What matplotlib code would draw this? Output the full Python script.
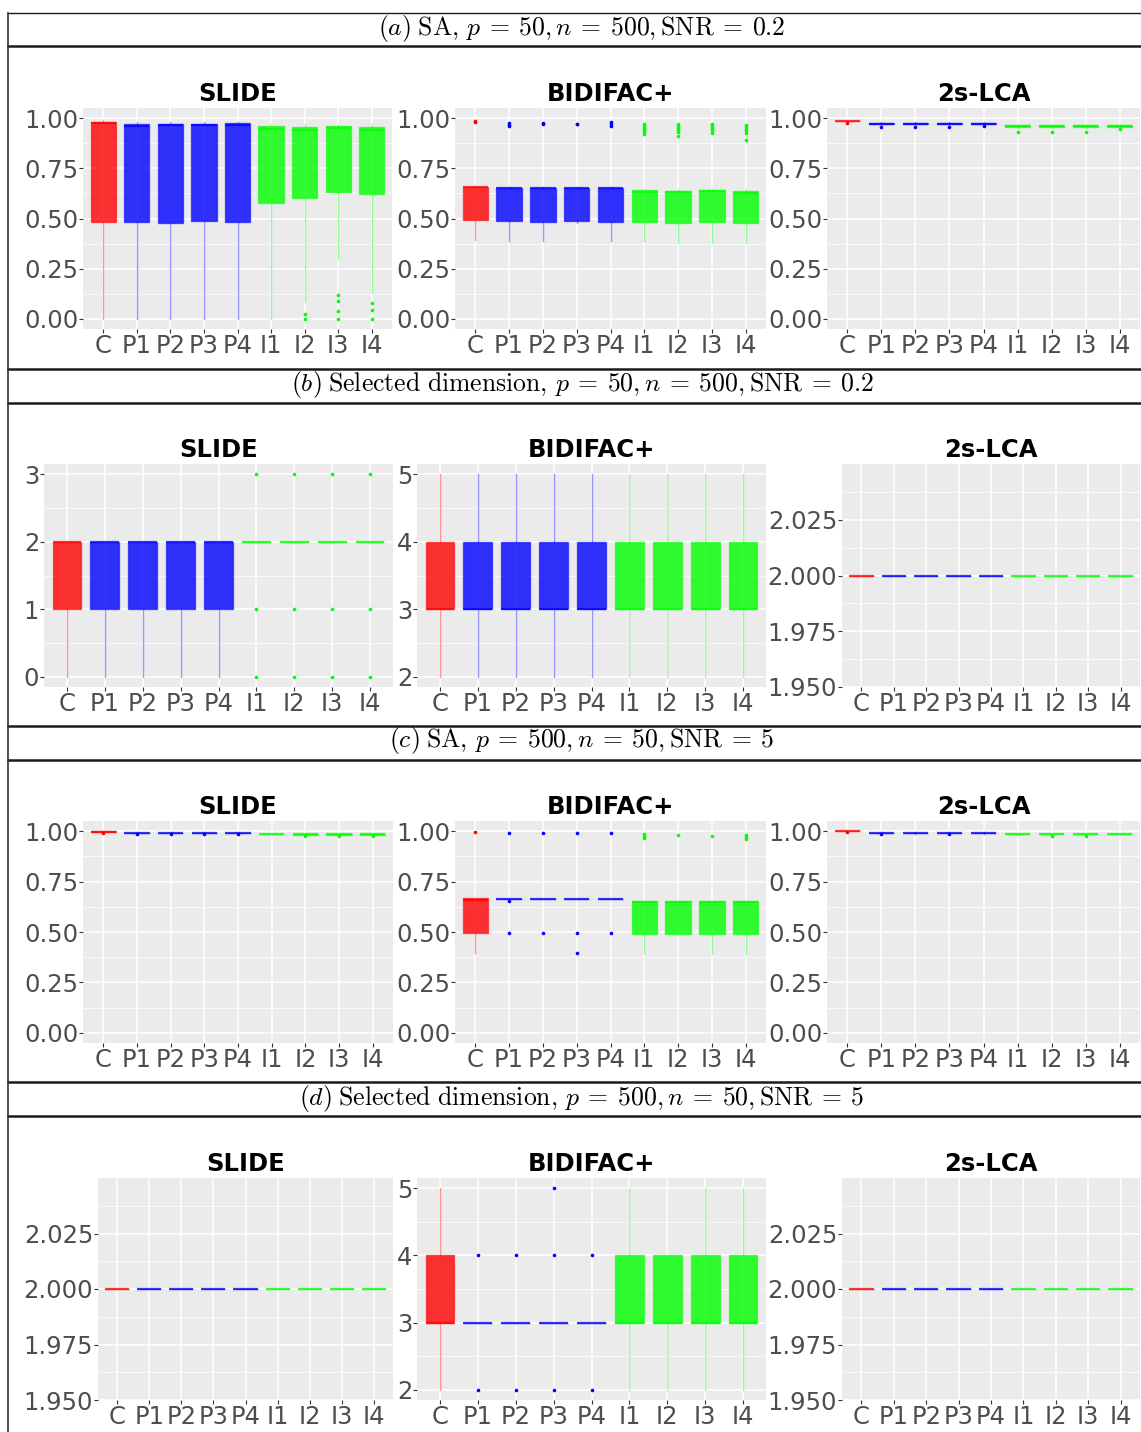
import numpy as np
import matplotlib
matplotlib.use("Agg")
from matplotlib import pyplot as plt
from matplotlib.colors import to_rgba

plt.rcParams['mathtext.fontset'] = 'cm'
plt.rcParams['font.family'] = 'DejaVu Sans'

W, H = 1141, 1432

categorias = ["C", "P1", "P2", "P3", "P4", "I1", "I2", "I3", "I4"]
cores = ["#FF0000"] + ["#0000FF"] * 4 + ["#00FF00"] * 4

titulos = ["SLIDE", "BIDIFAC+", "2s-LCA"]
cabecalhos = [
    r"$(a)\;\mathrm{SA,}\,p\:=\:50,n\:=\:500,\mathrm{SNR}\:=\:0.2$",
    r"$(b)\;\mathrm{Selected\ dimension,}\,p\:=\:50,n\:=\:500,\mathrm{SNR}\:=\:0.2$",
    r"$(c)\;\mathrm{SA,}\,p\:=\:500,n\:=\:50,\mathrm{SNR}\:=\:5$",
    r"$(d)\;\mathrm{Selected\ dimension,}\,p\:=\:500,n\:=\:50,\mathrm{SNR}\:=\:5$",
]

# estatisticas de cada caixa: [lo, q1, med, q3, hi]
a_slide = [[0.0, 0.485, 0.975, 0.98, 0.99],
           [0.0, 0.485, 0.958, 0.972, 0.98],
           [0.0, 0.48, 0.965, 0.97, 0.98],
           [0.0, 0.49, 0.965, 0.97, 0.98],
           [0.0, 0.482, 0.963, 0.973, 0.98],
           [0.0, 0.575, 0.944, 0.96, 0.97],
           [0.085, 0.60, 0.94, 0.955, 0.97],
           [0.30, 0.632, 0.948, 0.958, 0.972],
           [0.13, 0.62, 0.94, 0.953, 0.97]]
a_slide_out = [[], [], [], [], [], [], [0.025, 0.0], [0.12, 0.088, 0.04, 0.0], [0.078, 0.046, 0.0]]

a_bidifac = [[0.394, 0.491, 0.655, 0.658, 0.66],
             [0.389, 0.488, 0.652, 0.652, 0.655],
             [0.389, 0.485, 0.652, 0.652, 0.655],
             [0.48, 0.487, 0.652, 0.652, 0.655],
             [0.386, 0.485, 0.652, 0.652, 0.655],
             [0.386, 0.481, 0.632, 0.644, 0.648],
             [0.376, 0.478, 0.632, 0.639, 0.645],
             [0.38, 0.481, 0.635, 0.642, 0.648],
             [0.378, 0.478, 0.627, 0.637, 0.645]]
a_bidifac_out = [[0.985, 0.98], [0.975, 0.965, 0.96], [0.975, 0.97], [0.972, 0.968],
                 [0.978, 0.97, 0.962], [0.97, 0.96, 0.95, 0.94, 0.93, 0.92],
                 [0.97, 0.96, 0.95, 0.94, 0.93, 0.91], [0.97, 0.96, 0.95, 0.94, 0.925],
                 [0.965, 0.955, 0.945, 0.935, 0.925, 0.89]]

a_lca = [[0.98, 0.983, 0.985, 0.987, 0.99],
         [0.965, 0.97, 0.972, 0.974, 0.978],
         [0.965, 0.97, 0.972, 0.974, 0.978],
         [0.965, 0.97, 0.972, 0.974, 0.978],
         [0.965, 0.97, 0.972, 0.974, 0.978],
         [0.945, 0.955, 0.96, 0.965, 0.97],
         [0.945, 0.954, 0.958, 0.963, 0.968],
         [0.948, 0.957, 0.961, 0.966, 0.97],
         [0.945, 0.954, 0.958, 0.963, 0.968]]
a_lca_out = [[0.975], [0.955], [0.955], [0.955], [0.96], [0.93], [0.932], [0.933], [0.945]]

b_slide = [[0, 1, 2, 2, 2]] * 5 + [[2, 2, 2, 2, 2]] * 4
b_slide_out = [[]] * 5 + [[0, 1, 3]] * 4

b_bidifac = [[2, 3, 3, 4, 5]] * 9
b_bidifac_out = [[]] * 9

b_lca = [[2, 2, 2, 2, 2]] * 9
b_lca_out = [[]] * 9

c_slide = [[0.993, 0.996, 0.997, 0.998, 0.999]] + [[0.988, 0.99, 0.991, 0.992, 0.994]] * 4 + \
          [[0.982, 0.984, 0.985, 0.986, 0.988]] + [[0.98, 0.983, 0.985, 0.986, 0.988]] * 3
c_slide_out = [[0.99], [0.985], [0.985], [0.985], [0.985], [], [0.975], [0.975], [0.975]]

c_bidifac = [[0.398, 0.497, 0.66, 0.667, 0.667],
             [0.663, 0.663, 0.663, 0.663, 0.663],
             [0.663, 0.663, 0.663, 0.663, 0.663],
             [0.663, 0.663, 0.663, 0.663, 0.663],
             [0.663, 0.663, 0.663, 0.663, 0.663],
             [0.395, 0.492, 0.65, 0.653, 0.653],
             [0.49, 0.49, 0.65, 0.653, 0.653],
             [0.39, 0.492, 0.65, 0.653, 0.653],
             [0.39, 0.492, 0.65, 0.653, 0.653]]
c_bidifac_out = [[0.995], [0.99, 0.655, 0.497], [0.993, 0.497], [0.993, 0.497, 0.398],
                 [0.99, 0.497], [0.985, 0.975, 0.965], [0.98], [0.978], [0.98, 0.97, 0.962]]

c_lca = [[0.996, 0.998, 0.999, 0.999, 1.0]] + [[0.988, 0.99, 0.991, 0.992, 0.994]] * 4 + \
        [[0.983, 0.985, 0.986, 0.987, 0.988]] * 4
c_lca_out = [[0.995], [0.985], [], [0.986], [], [], [0.975], [0.976], []]

d_slide = [[2, 2, 2, 2, 2]] * 9
d_slide_out = [[]] * 9

d_bidifac = [[2, 3, 3, 4, 5]] + [[3, 3, 3, 3, 3]] * 4 + \
            [[2, 3, 3, 4, 5], [2, 3, 3, 4, 4], [2, 3, 3, 4, 5], [2, 3, 3, 4, 5]]
d_bidifac_out = [[], [2, 4], [2, 4], [2, 4, 5], [2, 4], [], [], [], []]

d_lca = [[2, 2, 2, 2, 2]] * 9
d_lca_out = [[]] * 9

# escalas do eixo y
ticks_prop = [0, 0.25, 0.5, 0.75, 1.0]
ticks_dim3 = [0, 1, 2, 3]
ticks_dim5 = [2, 3, 4, 5]
ticks_cte = [1.95, 1.975, 2.0, 2.025]

# (dados, outliers, ticks, limites, formato, retangulo em pixeis)
paineis = [
    [(a_slide, a_slide_out, ticks_prop, (-0.05, 1.05), "%.2f", (83, 108, 392, 329)),
     (a_bidifac, a_bidifac_out, ticks_prop, (-0.05, 1.05), "%.2f", (455, 108, 766, 329)),
     (a_lca, a_lca_out, ticks_prop, (-0.05, 1.05), "%.2f", (827, 108, 1140, 329))],
    [(b_slide, b_slide_out, ticks_dim3, (-0.15, 3.15), "%d", (44, 464, 393, 687)),
     (b_bidifac, b_bidifac_out, ticks_dim5, (1.85, 5.15), "%d", (417, 464, 766, 687)),
     (b_lca, b_lca_out, ticks_cte, (1.95, 2.05), "%.3f", (842, 464, 1140, 687))],
    [(c_slide, c_slide_out, ticks_prop, (-0.05, 1.05), "%.2f", (83, 821, 393, 1043)),
     (c_bidifac, c_bidifac_out, ticks_prop, (-0.05, 1.05), "%.2f", (455, 821, 766, 1043)),
     (c_lca, c_lca_out, ticks_prop, (-0.05, 1.05), "%.2f", (827, 821, 1140, 1043))],
    [(d_slide, d_slide_out, ticks_cte, (1.95, 2.05), "%.3f", (98, 1178, 393, 1400)),
     (d_bidifac, d_bidifac_out, ticks_dim5, (1.85, 5.15), "%d", (417, 1178, 766, 1400)),
     (d_lca, d_lca_out, ticks_cte, (1.95, 2.05), "%.3f", (842, 1178, 1140, 1400))],
]

linhas_h = [13, 46, 369, 403, 726, 760, 1082, 1116]
y_cabecalho = [28, 385, 741, 1098]


def retangulo(x0, y0, x1, y1):
    return [x0 / W, 1 - y1 / H, (x1 - x0) / W, (y1 - y0) / H]


def boxplot(ax, dados, outliers, ticks, lims, fmt, titulo):
    ax.set_facecolor("#EBEBEB")
    for s in ax.spines.values():
        s.set_visible(False)
    # grelha estilo ggplot
    for t in ticks:
        ax.axhline(t, color="white", lw=1.1, zorder=0)
    passo = ticks[1] - ticks[0]
    for t in np.arange(ticks[0] - passo / 2, lims[1], passo):
        if lims[0] < t < lims[1]:
            ax.axhline(t, color="white", lw=0.5, zorder=0)
    for i in range(len(categorias)):
        ax.axvline(i, color="white", lw=1.1, zorder=0)

    for i, (st, out) in enumerate(zip(dados, outliers)):
        col = cores[i]
        stats = dict(whislo=st[0], q1=st[1], med=st[2], q3=st[3], whishi=st[4], fliers=out)
        ax.bxp([stats], positions=[i], widths=0.75, patch_artist=True, showcaps=False,
               boxprops=dict(facecolor=to_rgba(col, 0.8), edgecolor=to_rgba(col, 0.55), linewidth=1),
               medianprops=dict(color=to_rgba(col, 0.75), linewidth=1.6),
               whiskerprops=dict(color=to_rgba(col, 0.4), linewidth=1),
               flierprops=dict(marker="o", markersize=2.6, markerfacecolor=col,
                               markeredgecolor="none"),
               manage_ticks=False)

    ax.set_xlim(-0.6, 8.6)
    ax.set_ylim(*lims)
    ax.set_xticks(range(len(categorias)))
    ax.set_xticklabels(categorias)
    ax.set_yticks(ticks)
    ax.set_yticklabels([fmt % t for t in ticks])
    ax.tick_params(axis="both", labelsize=17.5, labelcolor="#4D4D4D", color="#333333",
                   length=3, width=0.8, pad=0.5)
    ax.set_title(titulo, fontsize=17.5, fontweight="bold", pad=5)


fig = plt.figure(figsize=(W / 100, H / 100), dpi=100)

fundo = fig.add_axes([0, 0, 1, 1])
fundo.set_xlim(0, W)
fundo.set_ylim(H, 0)
fundo.axis("off")
for k, y in enumerate(linhas_h):
    fundo.plot([8, W], [y, y], color="#1a1a1a", lw=1.0 if k == 0 else 1.8)
fundo.plot([8, 8], [13, H], color="#333333", lw=1.2)
for txt, y in zip(cabecalhos, y_cabecalho):
    fundo.text(582, y, txt, ha="center", va="center", fontsize=18.5)

for linha in paineis:
    for (dados, out, ticks, lims, fmt, rect), titulo in zip(linha, titulos):
        ax = fig.add_axes(retangulo(*rect))
        boxplot(ax, dados, out, ticks, lims, fmt, titulo)

plt.savefig("out.png", dpi=100)
